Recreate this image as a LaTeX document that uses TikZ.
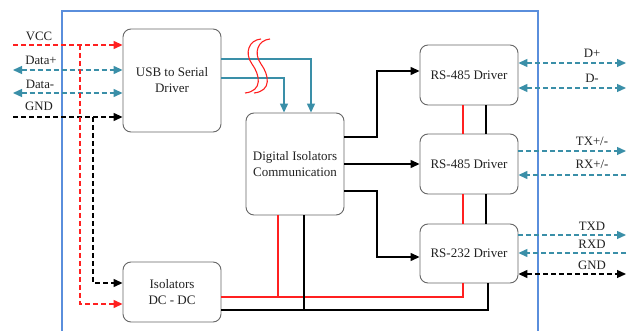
\documentclass[tikz,border=0pt]{standalone}
\usepackage{fontspec}
\setmainfont{Liberation Serif}
\usetikzlibrary{arrows.meta}
\definecolor{teal1}{HTML}{3A8FA8}
\definecolor{frameblue}{HTML}{5A8EDC}
\definecolor{red1}{HTML}{FF2020}
\definecolor{boxgray}{HTML}{666666}
\definecolor{txt}{HTML}{222222}
\tikzset{
  blk/.style={draw=boxgray, line width=0.9pt, rounded corners=8pt, fill=white, align=center, text=txt, font=\fontsize{13}{16}\selectfont, inner sep=0pt},
  lbl/.style={font=\fontsize{12.8}{14}\selectfont, text=txt, inner sep=0pt},
  tip/.style={-{Triangle[length=9pt,width=8pt]}},
  tips/.style={{Triangle[length=9pt,width=8pt]}-{Triangle[length=9pt,width=8pt]}},
  dsh/.style={dash pattern=on 5pt off 3pt, line width=1.3pt},
  wire/.style={line width=1.3pt},
}
\begin{document}
\begin{tikzpicture}[x=1pt,y=-1pt]
\useasboundingbox (0,0) rectangle (627,331);
\fill[white] (0,0) rectangle (627,331);
% frame
\draw[frameblue, line width=2pt] (62,345) -- (62,11) -- (538,11) -- (538,345);
% boxes
\node[blk, minimum width=98pt, minimum height=103pt] (usb) at (172,80.5) {USB to Serial\\Driver};
\node[blk, minimum width=98pt, minimum height=60pt] (iso) at (172,292) {Isolators\\DC - DC};
\node[blk, minimum width=98pt, minimum height=102pt] (dig) at (295,164) {Digital Isolators\\Communication};
\node[blk, minimum width=98pt, minimum height=60pt] (rsa) at (469,75) {RS-485 Driver};
\node[blk, minimum width=98pt, minimum height=60pt] (rsb) at (469,164) {RS-485 Driver};
\node[blk, minimum width=98pt, minimum height=59pt] (rsc) at (469,253.5) {RS-232 Driver};
% left coordinates
\coordinate (vccL) at (13,45);
\coordinate (dpL) at (13,70);
\coordinate (dmL) at (13,93);
\coordinate (gndL) at (13,117);
\node[lbl] (vccT) at (39,36) {VCC};
\node[lbl] (dpT) at (41,60) {Data+};
\node[lbl] (dmT) at (40,84) {Data-};
\node[lbl] (gndT) at (39,106) {GND};
\draw[dsh, red1, tip] (vccL) -- (vccL -| usb.west);
\draw[dsh, teal1, tips] (dpL) -- (dpL -| usb.west);
\draw[dsh, teal1, tips] (dmL) -- (dmL -| usb.west);
\draw[dsh, black, tip] (gndL) -- (gndL -| usb.west);
\coordinate (vccD) at (80,45);
\coordinate (gndD) at (93,117);
\draw[dsh, red1, tip] (vccD) -- (80,304) -- (iso.west |- 0,304);
\draw[dsh, black, tip] (gndD) -- (93,283) -- (iso.west |- 0,283);
% teal links
\draw[wire, teal1, tip] (usb.east |- 0,59) -- (311,59) -- (dig.north -| 311,0);
\draw[wire, teal1, tip] (usb.east |- 0,78) -- (284,78) -- (dig.north -| 284,0);
% break symbols
\draw[red1, line width=1.1pt] (261,39) .. controls (249,40) and (244,53) .. (252,64) .. controls (260,75) and (263,91) .. (245,93);
\draw[red1, line width=1.1pt] (270,39) .. controls (258,40) and (253,53) .. (261,64) .. controls (269,75) and (272,91) .. (254,93);
% DI to drivers
\draw[wire, tip] (dig.east |- 0,137) -- (377,137) -- (377,71) -- (rsa.west |- 0,71);
\draw[wire, tip] (dig.east |- 0,164) -- (rsb.west |- 0,164);
\draw[wire, tip] (dig.east |- 0,191) -- (377,191) -- (377,257) -- (rsc.west |- 0,257);
% power buses
\draw[wire, red1] (iso.east |- 0,297) -- (463,297) -- (rsc.south -| 463,0);
\draw[wire, black] (iso.east |- 0,310) -- (488,310) -- (rsc.south -| 488,0);
\draw[wire, red1] (dig.south -| 278,0) -- (278,297);
\draw[wire, black] (dig.south -| 304,0) -- (304,310);
\draw[wire, red1] (rsa.south -| 463,0) -- (rsb.north -| 463,0);
\draw[wire, black] (rsa.south -| 486,0) -- (rsb.north -| 486,0);
\draw[wire, red1] (rsb.south -| 463,0) -- (rsc.north -| 463,0);
\draw[wire, black] (rsb.south -| 486,0) -- (rsc.north -| 486,0);
% right side signals
\coordinate (dpR) at (626,63);
\coordinate (dmR) at (626,88);
\coordinate (txR) at (626,151);
\coordinate (rxR) at (626,175);
\coordinate (txdR) at (626,235);
\coordinate (rxdR) at (626,253);
\coordinate (gndR) at (626,274);
\node[lbl] (dpRT) at (592,53) {D+};
\node[lbl] (dmRT) at (592,78) {D-};
\node[lbl] (txRT) at (592,141) {TX+/-};
\node[lbl] (rxRT) at (592,164) {RX+/-};
\node[lbl] (txdRT) at (592,226) {TXD};
\node[lbl] (rxdRT) at (592,244) {RXD};
\node[lbl] (gndRT) at (592,265) {GND};
\draw[dsh, teal1, tips] (rsa.east |- dpR) -- (dpR);
\draw[dsh, teal1, tips] (rsa.east |- dmR) -- (dmR);
\draw[dsh, teal1, tip] (rsb.east |- txR) -- (txR);
\draw[dsh, teal1, tip] (rxR) -- (rsb.east |- rxR);
\draw[dsh, teal1, tip] (rsc.east |- txdR) -- (txdR);
\draw[dsh, teal1, tip] (rxdR) -- (rsc.east |- rxdR);
\draw[dsh, black, tips] (rsc.east |- gndR) -- (gndR);
\end{tikzpicture}
\end{document}
